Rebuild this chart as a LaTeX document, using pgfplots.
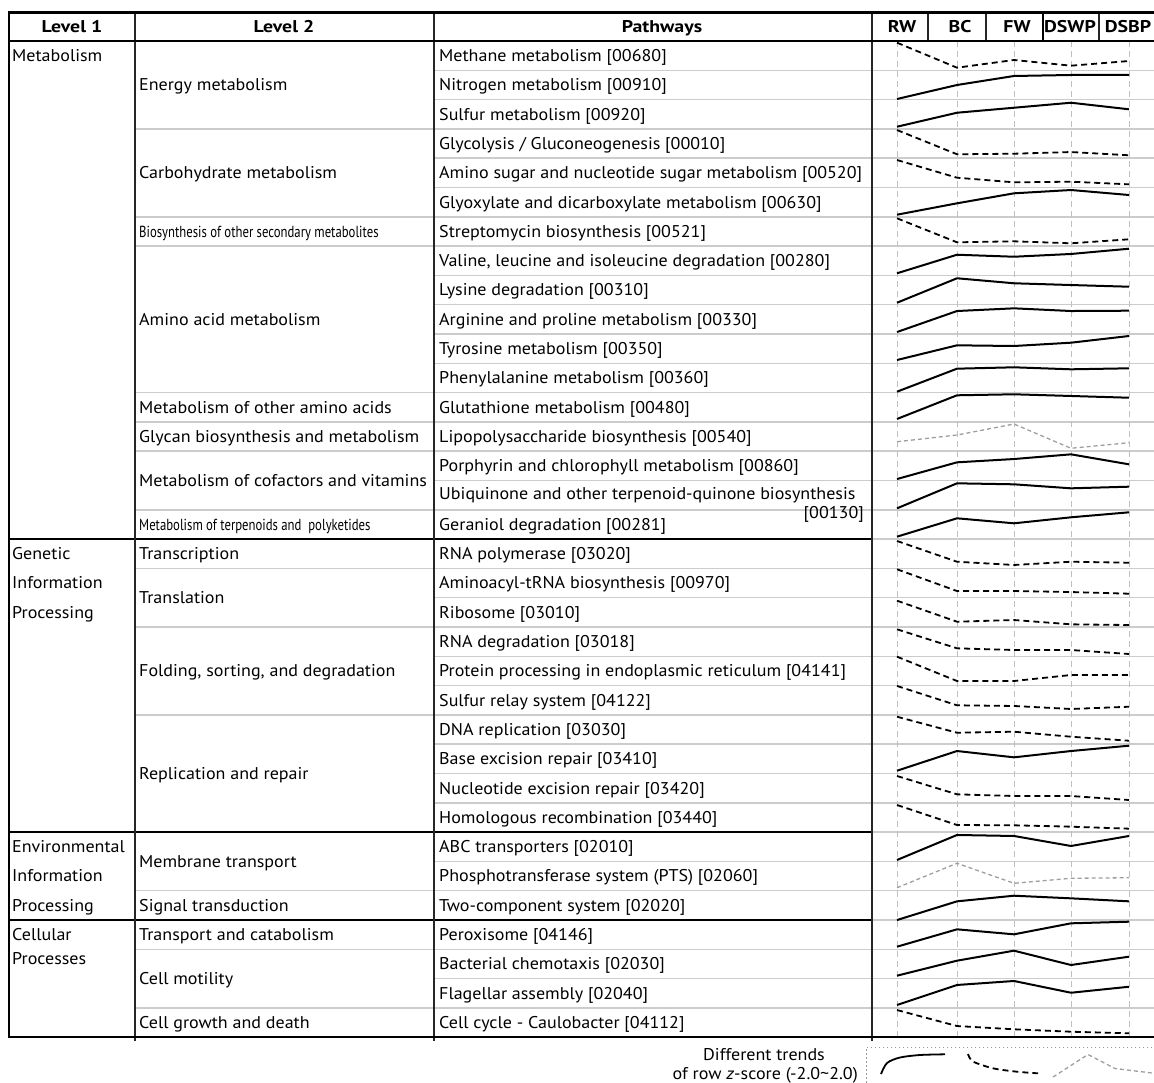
\documentclass[border=0pt]{standalone}
\usepackage{fontspec}
\setmainfont{PT Sans}[FakeStretch=1.06]
\usepackage{graphicx}
\usepackage{pgfplots}
\pgfplotsset{compat=1.18}

\newcommand\bodyfont{\fontsize{17}{20}\selectfont}
\newcommand\headfont{\fontsize{17}{20}\selectfont\bfseries}
\newcommand\head[1]{\scalebox{1.1}[1]{#1}}
\newcommand\smallcond[1]{{\fontsize{16}{19}\selectfont\scalebox{0.75}[1]{#1}}}

% row i has its centre at 55.5 + 29.3 i
\newcommand\pathway[2]{\node[anchor=base west,font=\bodyfont,inner sep=0pt] at (axis cs:439,{61.5+29.3*#1}) {#2};}
\newcommand\levelii[2]{\node[anchor=base west,font=\bodyfont,inner sep=0pt] at (axis cs:139,{61.5+29.3*#1}) {#2};}
\newcommand\leveli[2]{\node[anchor=base west,font=\bodyfont,inner sep=0pt] at (axis cs:12,{61.5+29.3*#1}) {#2};}
% trend of row z-scores over RW, BC, FW, DSWP, DSBP
\newcommand\trend[7]{\addplot[#2] table[row sep=\\, y expr={55.5+29.3*#1-6.25*\thisrow{z}}] {x z\\ 897 #3\\ 957 #4\\ 1014 #5\\ 1071 #6\\ 1129 #7\\};}

\tikzset{
  up/.style={black, line width=2pt, line join=round},
  dn/.style={black, line width=1.8pt, dash pattern=on 6pt off 4pt},
  fl/.style={black!38, line width=1.3pt, dash pattern=on 4pt off 3pt},
  rowrule/.style={black!20, line width=1.5pt},
  colrule/.style={black!85, line width=1.2pt},
}

\begin{document}
\begin{tikzpicture}
\begin{axis}[
  anchor=south west, at={(0,0)},
  scale only axis, width=1154pt, height=1082pt,
  xmin=0, xmax=1154, ymin=0, ymax=1082, y dir=reverse,
  hide axis, clip=false, no markers,
]
% ---- light row rules ----
\pgfplotsinvokeforeach{1,...,33}{
  \draw[rowrule] (434,{41+29.3*#1}) -- (1154,{41+29.3*#1});
}
\pgfplotsinvokeforeach{3,6,7,12,13,14,16,18,20,23,29,31,33}{
  \draw[rowrule] (135,{41+29.3*#1}) -- (434,{41+29.3*#1});
}
% ---- sample grid in the trend column ----
\pgfplotsinvokeforeach{897,957,1014,1071,1129}{
  \draw[black!25, line width=1pt, dash pattern=on 6pt off 4pt] (#1,41) -- (#1,1037);
}
% ---- level 1 separators ----
\pgfplotsinvokeforeach{17,27,30}{
  \draw[black, line width=1.3pt] (9,{41+29.3*#1}) -- (872,{41+29.3*#1});
}
% ---- column rules ----
\draw[colrule] (135,12) -- (135,1041);
\draw[colrule] (434,12) -- (434,1041);
\draw[colrule] (872,12) -- (872,1041);
\pgfplotsinvokeforeach{928,986,1099}{ \draw[colrule] (#1,12) -- (#1,41); }
\draw[black, line width=1.6pt] (1043,12) -- (1043,41);
\draw[black, line width=2.2pt] (9,11) -- (9,1038);
\draw[black, line width=1.3pt] (9,41) -- (1154,41);
\draw[black, line width=3pt] (8,12) -- (1154,12);
\draw[black, line width=2.5pt] (8,1037) -- (1154,1037);

% ---- header ----
\node[anchor=base,font=\headfont,inner sep=0pt] at (72,32.5) {\head{Level 1}};
\node[anchor=base,font=\headfont,inner sep=0pt] at (284,32.5) {\head{Level 2}};
\node[anchor=base,font=\headfont,inner sep=0pt] at (662,32.5) {\head{Pathways}};
\node[anchor=base,font=\headfont,inner sep=0pt] at (902,32.5) {\head{RW}};
\node[anchor=base,font=\headfont,inner sep=0pt] at (960,32.5) {\head{BC}};
\node[anchor=base,font=\headfont,inner sep=0pt] at (1017,32.5) {\head{FW}};
\node[anchor=base,font=\headfont,inner sep=0pt] at (1070,32.5) {\head{DSWP}};
\node[anchor=base,font=\headfont,inner sep=0pt] at (1128,32.5) {\head{DSBP}};

% ---- level 1 ----
\leveli{0}{Metabolism}
\leveli{17}{Genetic}
\leveli{18}{Information}
\leveli{19}{Processing}
\leveli{27}{Environmental}
\leveli{28}{Information}
\leveli{29}{Processing}
\leveli{30}{Cellular}
\leveli{30.82}{Processes}

% ---- level 2 ----
\levelii{1}{Energy metabolism}
\levelii{4}{Carbohydrate metabolism}
\levelii{6}{\smallcond{Biosynthesis of other secondary metabolites}}
\levelii{9}{Amino acid metabolism}
\levelii{12}{Metabolism of other amino acids}
\levelii{13}{Glycan biosynthesis and metabolism}
\levelii{14.5}{Metabolism of cofactors and vitamins}
\levelii{16}{\smallcond{Metabolism of terpenoids and\ \ polyketides}}
\levelii{17}{Transcription}
\levelii{18.5}{Translation}
\levelii{21}{Folding, sorting, and degradation}
\levelii{24.5}{Replication and repair}
\levelii{27.5}{Membrane transport}
\levelii{29}{Signal transduction}
\levelii{30}{Transport and catabolism}
\levelii{31.5}{Cell motility}
\levelii{33}{Cell growth and death}

% ---- pathways ----
\pathway{0}{Methane metabolism [00680]}
\pathway{1}{Nitrogen metabolism [00910]}
\pathway{2}{Sulfur metabolism [00920]}
\pathway{3}{Glycolysis / Gluconeogenesis [00010]}
\pathway{4}{Amino sugar and nucleotide sugar metabolism [00520]}
\pathway{5}{Glyoxylate and dicarboxylate metabolism [00630]}
\pathway{6}{Streptomycin biosynthesis [00521]}
\pathway{7}{Valine, leucine and isoleucine degradation [00280]}
\pathway{8}{Lysine degradation [00310]}
\pathway{9}{Arginine and proline metabolism [00330]}
\pathway{10}{Tyrosine metabolism [00350]}
\pathway{11}{Phenylalanine metabolism [00360]}
\pathway{12}{Glutathione metabolism [00480]}
\pathway{13}{Lipopolysaccharide biosynthesis [00540]}
\pathway{14}{Porphyrin and chlorophyll metabolism [00860]}
\pathway{14.95}{Ubiquinone and other terpenoid-quinone biosynthesis}
\node[anchor=base east,font=\bodyfont,inner sep=0pt] at (864,{61.5+29.3*15.6}) {[00130]};
\pathway{16}{Geraniol degradation [00281]}
\pathway{17}{RNA polymerase [03020]}
\pathway{18}{Aminoacyl-tRNA biosynthesis [00970]}
\pathway{19}{Ribosome [03010]}
\pathway{20}{RNA degradation [03018]}
\pathway{21}{Protein processing in endoplasmic reticulum [04141]}
\pathway{22}{Sulfur relay system [04122]}
\pathway{23}{DNA replication [03030]}
\pathway{24}{Base excision repair [03410]}
\pathway{25}{Nucleotide excision repair [03420]}
\pathway{26}{Homologous recombination [03440]}
\pathway{27}{ABC transporters [02010]}
\pathway{28}{Phosphotransferase system (PTS) [02060]}
\pathway{29}{Two-component system [02020]}
\pathway{30}{Peroxisome [04146]}
\pathway{31}{Bacterial chemotaxis [02030]}
\pathway{32}{Flagellar assembly [02040]}
\pathway{33}{Cell cycle - Caulobacter [04112]}

% ---- row z-score trends (RW, BC, FW, DSWP, DSBP) ----
\trend{0}{dn}{2.05}{-1.95}{-0.72}{-1.63}{-0.88}
\trend{1}{up}{-2.27}{-0.03}{1.41}{1.57}{1.57}
\trend{2}{up}{-2.02}{0.22}{1.02}{1.82}{0.77}
\trend{3}{dn}{2.14}{-1.74}{-1.65}{-1.38}{-1.90}
\trend{4}{dn}{2.03}{-0.80}{-1.54}{-1.44}{-1.86}
\trend{5}{up}{-2.03}{-0.21}{1.39}{1.92}{1.12}
\trend{6}{dn}{2.08}{-1.76}{-1.60}{-1.92}{-1.28}
\trend{7}{up}{-2.03}{0.94}{0.62}{1.06}{1.90}
\trend{8}{up}{-2.05}{1.86}{1.06}{0.78}{0.51}
\trend{9}{up}{-2.05}{1.31}{1.74}{1.31}{1.36}
\trend{10}{up}{-1.84}{0.51}{0.40}{0.93}{2.00}
\trend{11}{up}{-2.22}{1.46}{1.68}{1.36}{1.52}
\trend{12}{up}{-1.90}{1.89}{2.05}{1.78}{1.50}
\trend{13}{fl}{-0.85}{0.22}{1.98}{-1.90}{-1.01}
\trend{14}{up}{-2.13}{0.54}{1.07}{1.82}{0.22}
\trend{15}{up}{-2.13}{1.87}{1.71}{1.07}{1.33}
\trend{16}{up}{-1.98}{0.96}{0.16}{1.12}{1.92}
\trend{17}{dn}{2.02}{-1.30}{-1.82}{-1.30}{-1.46}
\trend{18}{dn}{2.18}{-1.30}{-1.30}{-1.46}{-1.73}
\trend{19}{dn}{1.84}{-1.52}{-1.25}{-1.94}{-2.05}
\trend{20}{dn}{1.95}{-1.09}{-1.36}{-1.36}{-2.00}
\trend{21}{dn}{2.26}{-1.63}{-1.63}{-0.67}{-0.67}
\trend{22}{dn}{2.26}{-0.83}{-0.94}{-1.42}{-1.06}
\trend{23}{dn}{2.03}{-0.53}{-0.37}{-1.17}{-1.81}
\trend{24}{up}{-1.92}{1.23}{0.22}{1.23}{2.08}
\trend{25}{dn}{1.92}{-1.01}{-1.28}{-1.28}{-1.92}
\trend{26}{dn}{1.97}{-1.23}{-1.28}{-1.50}{-1.82}
\trend{27}{up}{-2.14}{1.86}{1.70}{0.10}{1.70}
\trend{28}{fl}{-1.89}{2.02}{-1.18}{-0.38}{-0.29}
\trend{29}{up}{-2.37}{0.62}{1.52}{1.10}{0.62}
\trend{30}{up}{-1.95}{0.83}{0.03}{1.79}{2.05}
\trend{31}{up}{-1.90}{0.50}{2.10}{-0.19}{1.14}
\trend{32}{up}{-1.90}{1.30}{1.94}{0.06}{1.02}
\trend{33}{dn}{1.98}{-0.58}{-1.10}{-1.49}{-1.74}

% ---- key ----
\draw[black!40, line width=1pt, dash pattern=on 1.5pt off 2.5pt] (1160,1047) -- (866,1047) -- (866,1090);
\node[anchor=base,font=\bodyfont,inner sep=0pt] at (764,1060) {Different trends};
\node[anchor=base east,font=\bodyfont,inner sep=0pt] at (858,1079) {of row \textit{z}-score (-2.0\textasciitilde2.0)};
\addplot[up, line width=1.8pt, smooth] coordinates {(881,1074) (887,1063) (900,1057.5) (920,1055) (945,1054.3)};
\addplot[dn, smooth] coordinates {(968,1054) (973,1061.5) (993,1068.3) (1017,1071.7) (1038,1073.3)};
\addplot[fl] coordinates {(1053,1077) (1088,1054.5) (1115,1068.5) (1156,1073.5)};
\end{axis}
\pgfresetboundingbox
\path (0,0) rectangle (1154pt,1082pt);
\end{tikzpicture}
\end{document}
